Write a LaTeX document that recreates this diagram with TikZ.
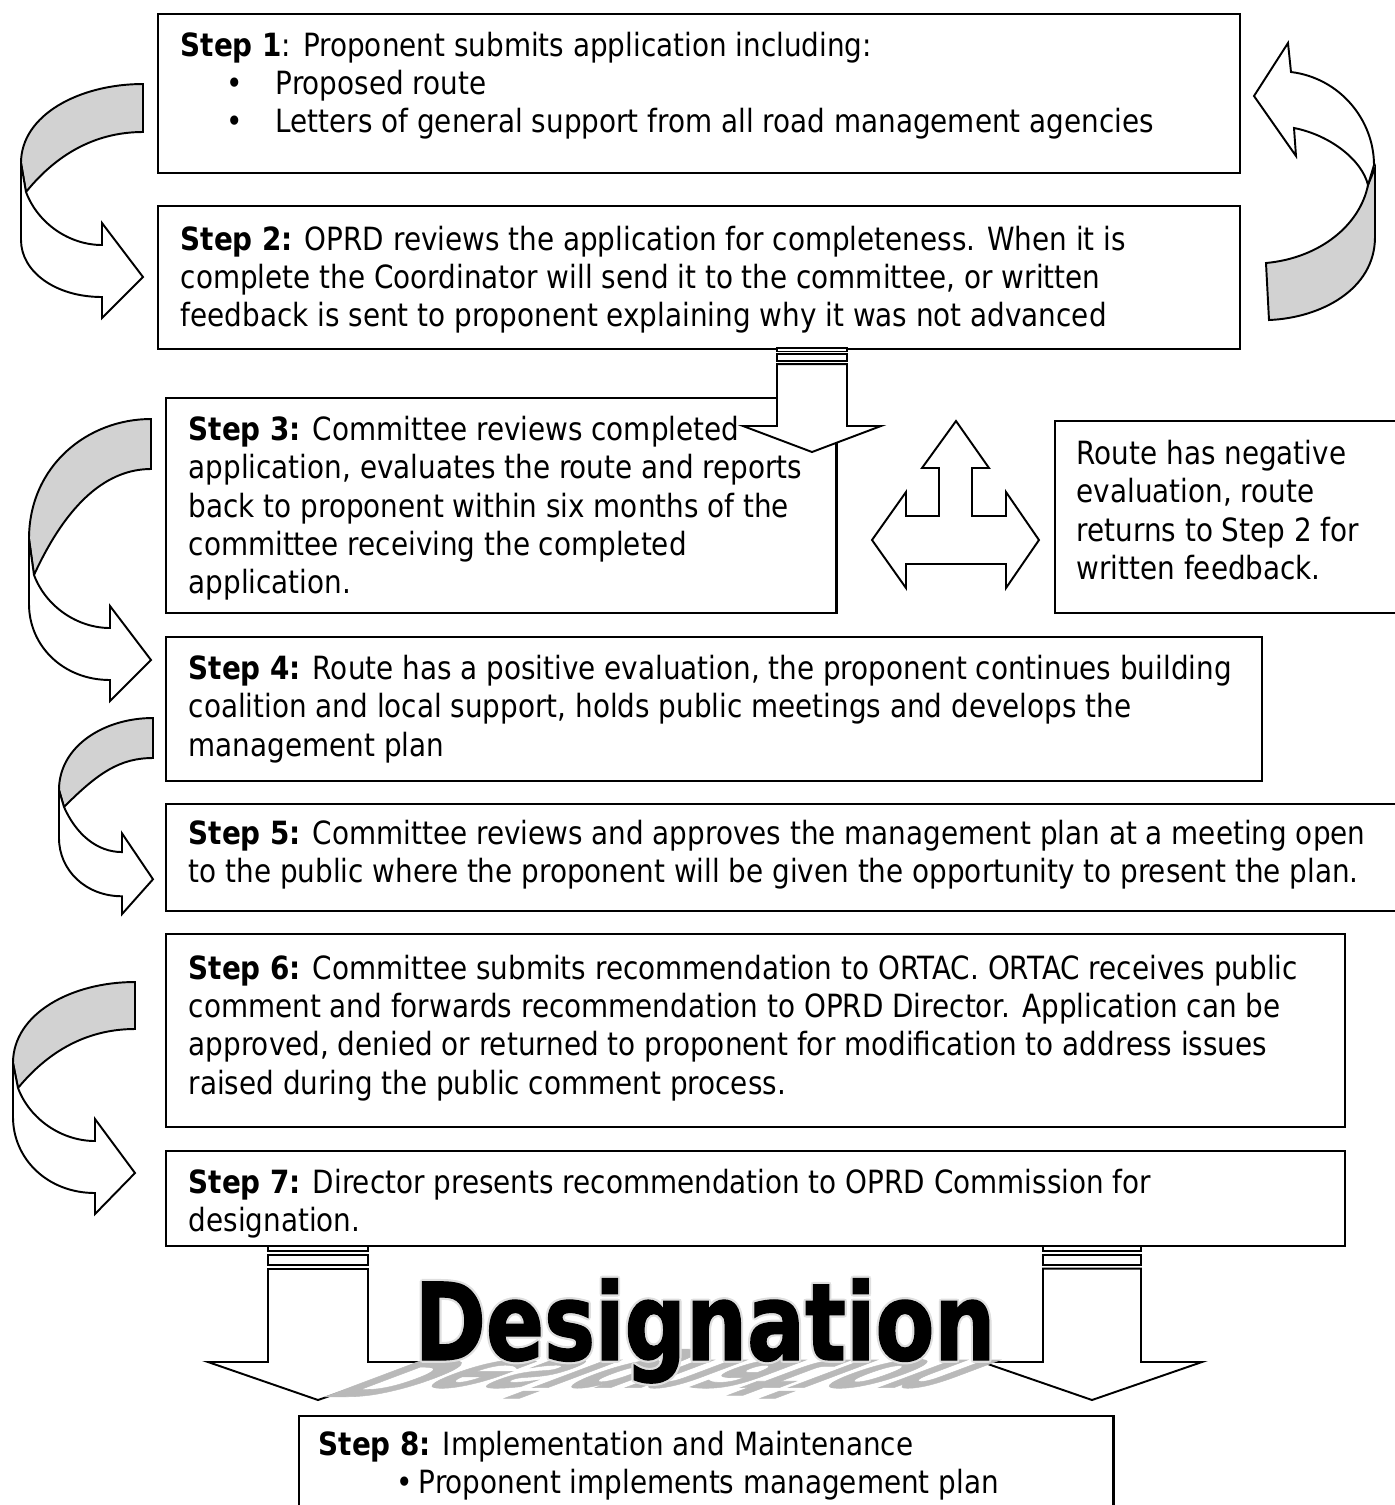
\documentclass[tikz,border=0pt]{standalone}
\usepackage{fontspec}
\setmainfont{DejaVu Sans}[FakeStretch=0.87]
\newfontfamily\desfont{DejaVu Sans}[FakeStretch=0.80,FakeBold=1.2]
\newcommand\mainsz{\fontsize{9.1}{10.9}\selectfont}
\newcommand\dessz{\fontsize{30.5}{34}\selectfont}

\newcommand\boxn[5]{\node[box, anchor=north west, inner sep=0pt,
  minimum width={(#4-#2)*0.284528pt}, minimum height={(#5-#3)*0.284528pt}] (#1) at (#2,#3) {};}

% curved arrow bending left then pointing right
% #1 xe, #2 yt, #3 W, #4 T, #5 A, #6 B, #7 C, #8 k, #9 Hx
\newcommand\lcurve[9]{%
\pgfmathsetmacro\cXe{#1}\pgfmathsetmacro\cYt{#2}\pgfmathsetmacro\cW{#3}\pgfmathsetmacro\cT{#4}%
\pgfmathsetmacro\cA{#5}\pgfmathsetmacro\cB{#6}\pgfmathsetmacro\cC{#7}\pgfmathsetmacro\cK{#8}\pgfmathsetmacro\cHx{#9}%
\pgfmathsetmacro\cXl{\cXe-\cW}%
\pgfmathsetmacro\cXtw{\cXl+5}%
\pgfmathsetmacro\cYA{\cYt+\cA}%
\pgfmathsetmacro\cYB{\cYt+\cB}%
\pgfmathsetmacro\cYC{\cYt+\cC}%
\pgfmathsetmacro\cYT{\cYt+\cT}%
\pgfmathsetmacro\cXh{\cXe+\cHx}%
\pgfmathsetmacro\cYSa{\cYB+53*\cK}%
\pgfmathsetmacro\cYSb{\cYB+105*\cK}%
\pgfmathsetmacro\cYHt{\cYB+31*\cK}%
\pgfmathsetmacro\cYTip{\cYB+85*\cK}%
\pgfmathsetmacro\cYHb{\cYB+126*\cK}%
\draw[band] (\cXe,\cYt) .. controls ({\cXe-0.52*\cW},\cYt) and (\cXl,{\cYt+0.39*\cA}) .. (\cXl,\cYA)
  -- (\cXtw,\cYB) .. controls ({\cXtw+34},{\cYB-0.7*(\cB-\cT)}) and ({\cXe-0.35*\cW},\cYT) .. (\cXe,\cYT) -- cycle;
\draw[shp] (\cXtw,\cYB) .. controls ({\cXtw+12},{\cYB+0.6*(\cYSa-\cYB)}) and ({\cXh-0.4*(\cXh-\cXl)},\cYSa) .. (\cXh,\cYSa)
  -- (\cXh,\cYHt) -- (\cXe,\cYTip) -- (\cXh,\cYHb) -- (\cXh,\cYSb)
  .. controls ({\cXl+0.42*(\cXh-\cXl)},\cYSb) and (\cXl,{\cYC+0.55*(\cYSb-\cYC)}) .. (\cXl,\cYC) -- (\cXl,\cYA) -- cycle;
}

% striped down arrow: #1 shaft left, #2 shaft right, #3 y0, #4 shoulder y, #5 head left, #6 head right, #7 tip y
\newcommand\sarrow[7]{%
\pgfmathsetmacro\sS{(#2-#1)/100}%
\pgfmathsetmacro\sMid{(#5+#6)/2}%
\draw[shp] (#1,#3) rectangle (#2,{#3+5*\sS});
\draw[shp] (#1,{#3+9*\sS}) rectangle (#2,{#3+19*\sS});
\draw[shp] (#1,{#3+23*\sS}) -- (#1,#4) -- (#5,#4) -- (\sMid,#7) -- (#6,#4) -- (#2,#4) -- (#2,{#3+23*\sS}) -- cycle;
}

\begin{document}
\begin{tikzpicture}[x=0.01cm,y=-0.01cm, line join=miter]
\useasboundingbox (0,0) rectangle (1395,1505);
\tikzset{
 box/.style={draw, line width=0.65pt, fill=white},
 txt/.style={anchor=base west, inner sep=0pt, font=\mainsz},
 shp/.style={draw, line width=0.55pt, fill=white},
 band/.style={draw, line width=0.55pt, fill=gray!35},
 dstyle/.style={anchor=base west, inner sep=0pt, font=\desfont\dessz\bfseries},
}
% boxes
\boxn{b1}{157}{13}{1238}{172}
\boxn{b2}{157}{205}{1238}{348}
\boxn{b3}{165}{397}{835}{612}
\boxn{bn}{1054}{420}{1400}{612}
\boxn{b4}{165}{636}{1260}{780}
\boxn{b5}{165}{803}{1400}{910}
\boxn{b6}{165}{933}{1343}{1126}
\boxn{b7}{165}{1150}{1343}{1245}
\boxn{b8}{298}{1415}{1112}{1515}

% curved arrows on the left
\lcurve{143}{84}{122}{48}{79}{108}{156}{1}{-41}
\lcurve{151}{419}{122}{50}{120}{156}{185}{1}{-41}
\lcurve{153}{718}{94}{40}{72}{89}{120}{0.85}{-31}
\lcurve{135}{982}{122}{47}{81}{106}{135}{1}{-40}

% curved arrow on the right (back to step 1)
\draw[band] (1266,263) .. controls (1320,258) and (1360,225) .. (1368,185)
  -- (1375,168) -- (1375,237) .. controls (1375,290) and (1320,318) .. (1269,320) -- cycle;
\draw[shp] (1291,72) -- (1288,43) -- (1254,96) -- (1296,156) -- (1294,128)
  .. controls (1330,135) and (1362,160) .. (1368,185) -- (1374,165)
  .. controls (1374,120) and (1340,78) .. (1291,72) -- cycle;

% striped arrows
\sarrow{777}{847}{348}{426}{743}{881}{452}
\sarrow{268}{368}{1246}{1362}{208}{428}{1400}
\sarrow{1043}{1141}{1246}{1362}{982}{1202}{1400}

% three-way arrow
\draw[shp] (956,421) -- (989,468) -- (972,468) -- (972,516) -- (1006,516) -- (1006,492) -- (1039,540)
  -- (1006,588) -- (1006,564) -- (906,564) -- (906,588) -- (872,540) -- (906,492) -- (906,516)
  -- (939,516) -- (939,468) -- (922,468) -- cycle;

% Designation word art
\begin{scope}[shift={(414,1360)}]
\node[dstyle, transform shape, cm={1.02,0,-1.25,-0.47,(0,0)}, text=gray!55] (refl) at (0,0) {Designation};
\end{scope}
\foreach \dx/\dy [count=\i] in {2.2/0,-2.2/0,0/2.2,0/-2.2,1.6/1.6,-1.6/1.6,1.6/-1.6,-1.6/-1.6}
  \node[dstyle, text=gray!25] (halo\i) at ({414+\dx},{1360+\dy}) {Designation};
\node[dstyle] (desig) at (414,1360) {Designation};

% texts
\node[txt] (t1a) at (180,56) {\textbf{Step 1}: Proponent submits application including:};
\node[txt] (t1b) at (226,94) {•};
\node[txt] (t1c) at (275,94) {Proposed route};
\node[txt] (t1d) at (226,132) {•};
\node[txt] (t1e) at (275,132) {Letters of general support from all road management agencies};

\node[txt] (t2a) at (180,250) {\textbf{Step 2:} OPRD reviews the application for completeness. When it is};
\node[txt] (t2b) at (180,288) {complete the Coordinator will send it to the committee, or written};
\node[txt] (t2c) at (180,326) {feedback is sent to proponent explaining why it was not advanced};

\node[txt] (t3a) at (188,440) {\textbf{Step 3:} Committee reviews completed};
\node[txt] (t3b) at (188,478) {application, evaluates the route and reports};
\node[txt] (t3c) at (188,517) {back to proponent within six months of the};
\node[txt] (t3d) at (188,555) {committee receiving the completed};
\node[txt] (t3e) at (188,593) {application.};

\node[txt] (tna) at (1076,464) {Route has negative};
\node[txt] (tnb) at (1076,502) {evaluation, route};
\node[txt] (tnc) at (1076,541) {returns to Step 2 for};
\node[txt] (tnd) at (1076,579) {written feedback.};

\node[txt] (t4a) at (188,679) {\textbf{Step 4:} Route has a positive evaluation, the proponent continues building};
\node[txt] (t4b) at (188,717) {coalition and local support, holds public meetings and develops the};
\node[txt] (t4c) at (188,756) {management plan};

\node[txt] (t5a) at (188,844) {\textbf{Step 5:} Committee reviews and approves the management plan at a meeting open};
\node[txt] (t5b) at (188,882) {to the public where the proponent will be given the opportunity to present the plan.};

\node[txt] (t6a) at (188,979) {\textbf{Step 6:} Committee submits recommendation to ORTAC. ORTAC receives public};
\node[txt] (t6b) at (188,1017) {comment and forwards recommendation to OPRD Director. Application can be};
\node[txt] (t6c) at (188,1055) {approved, denied or returned to proponent for modification to address issues};
\node[txt] (t6d) at (188,1094) {raised during the public comment process.};

\node[txt] (t7a) at (188,1193) {\textbf{Step 7:} Director presents recommendation to OPRD Commission for};
\node[txt] (t7b) at (188,1231) {designation.};

\node[txt] (t8a) at (318,1455) {\textbf{Step 8:} Implementation and Maintenance};
\node[txt] (t8b) at (396,1493) {•};
\node[txt] (t8c) at (418,1493) {Proponent implements management plan};
\end{tikzpicture}
\end{document}
